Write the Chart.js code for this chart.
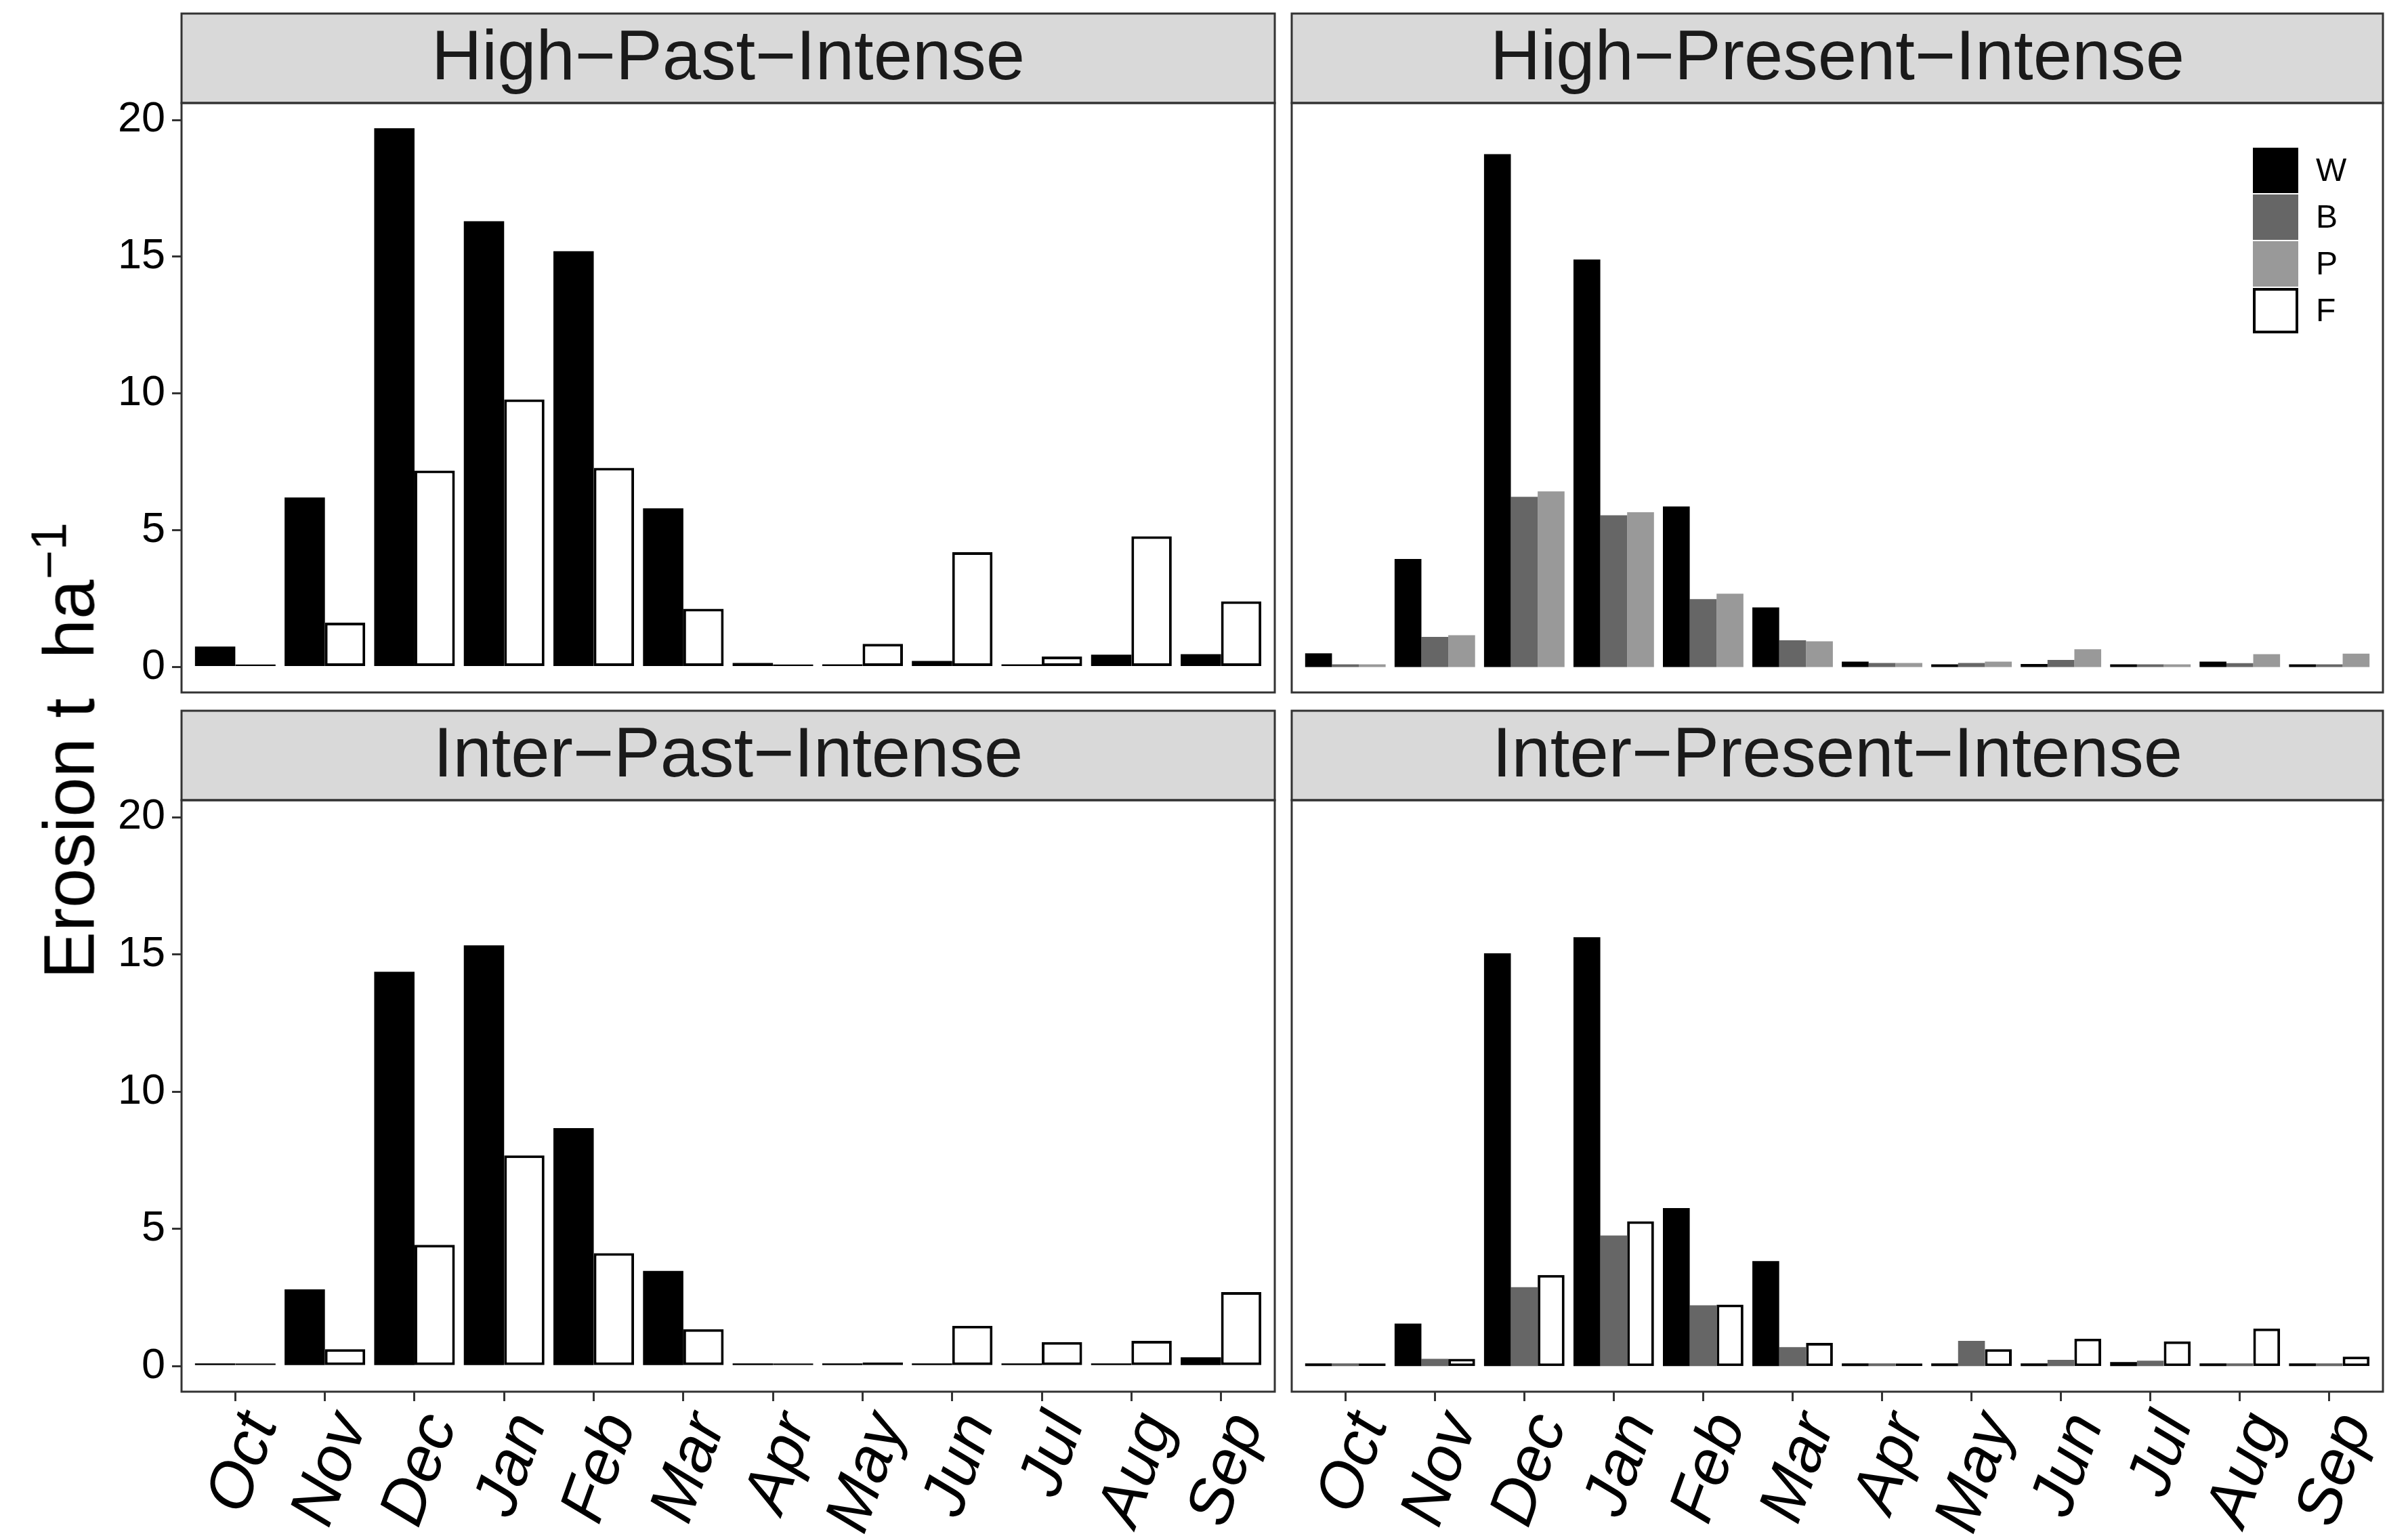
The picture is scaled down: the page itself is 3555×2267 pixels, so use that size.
<!DOCTYPE html>
<html lang="es">
<head>
<meta charset="utf-8">
<title>Erosión mensual por escenario</title>
<script src="https://cdn.jsdelivr.net/npm/chart.js@4.4.1/dist/chart.umd.min.js"></script>
<style>
  body { margin: 0; background: #fff; }
  #lienzo { position: relative; width: 3555px; height: 2267px; overflow: hidden; background: #fff; }
  #lienzo canvas { position: absolute; }
  #tituloY {
    position: absolute; left: 102px; top: 1108px;
    transform: translate(-50%, -50%) rotate(-90deg);
    font-family: 'Liberation Sans', Arial, sans-serif; font-size: 105px;
    white-space: pre; color: #000; line-height: 1;
  }
  #tituloY sup { font-size: 74px; vertical-align: 0; position: relative; top: -0.55em; }
</style>
</head>
<body>
<div id="lienzo">
  <canvas id="panelHPa" width="1895" height="1036" style="left:0;top:0"></canvas>
  <canvas id="panelHPr" width="1660" height="1036" style="left:1895px;top:0"></canvas>
  <canvas id="panelIPa" width="1895" height="1231" style="left:0;top:1036px"></canvas>
  <canvas id="panelIPr" width="1660" height="1231" style="left:1895px;top:1036px"></canvas>
  <div id="tituloY">Erosion t  ha<sup>−1</sup></div>
</div>
<script>
// ---------------- DATOS ----------------

// meses del año hidrológico (oct - sep)
const meses = ['Oct', 'Nov', 'Dec', 'Jan', 'Feb', 'Mar', 'Apr', 'May', 'Jun', 'Jul', 'Aug', 'Sep'];
const ticksY = [0, 5, 10, 15, 20];
const leyenda = ['W', 'B', 'P', 'F'];

// High-Past-Intense
const hpaW = [0.75, 6.2, 19.7, 16.3, 15.2, 5.8, 0.15, 0.05, 0.22, 0.03, 0.45, 0.47];
const hpaF = [0.02, 1.62, 7.18, 9.78, 7.28, 2.13, 0.1, 0.85, 4.2, 0.38, 4.78, 2.4];

// High-Present-Intense
const hprW = [0.5, 3.95, 18.75, 14.9, 5.87, 2.18, 0.2, 0.08, 0.11, 0.08, 0.2, 0.08];
const hprB = [0.08, 1.1, 6.22, 5.55, 2.48, 0.98, 0.15, 0.15, 0.26, 0.08, 0.14, 0.08];
const hprP = [0.08, 1.16, 6.42, 5.66, 2.68, 0.94, 0.15, 0.2, 0.65, 0.1, 0.47, 0.49];

// Inter-Past-Intense
const ipaW = [0.05, 2.8, 14.37, 15.33, 8.67, 3.47, 0.02, 0.05, 0.08, 0.07, 0.03, 0.32];
const ipaF = [0.02, 0.62, 4.42, 7.68, 4.12, 1.35, 0.02, 0.13, 1.47, 0.88, 0.92, 2.7];

// Inter-Present-Intense
const iprW = [0.05, 1.55, 15.04, 15.63, 5.76, 3.83, 0.05, 0.05, 0.1, 0.15, 0.08, 0.05];
const iprB = [0.03, 0.27, 2.88, 4.76, 2.22, 0.69, 0.03, 0.92, 0.23, 0.2, 0.03, 0.03];
const iprF = [0.03, 0.27, 3.32, 5.28, 2.24, 0.85, 0.05, 0.62, 1.0, 0.9, 1.37, 0.35];

// ---------------- ESTILOS ----------------

const estilos = {
    W: { fondo: '#000000', borde: '#000000', ancho: 0 },
    B: { fondo: '#666666', borde: '#666666', ancho: 0 },
    P: { fondo: '#999999', borde: '#999999', ancho: 0 },
    F: { fondo: '#ffffff', borde: '#000000', ancho: 4 }
};

Chart.defaults.font.family = "'Liberation Sans', Arial, sans-serif";

const ALTO_FRANJA = 132;

// franja gris con el título, borde del panel y leyenda
const marco = {
    id: 'marco',
    afterDraw(chart, args, opts) {
        const { ctx, chartArea: a } = chart;
        const ancho = a.right - a.left;
        ctx.save();

        ctx.fillStyle = '#d9d9d9';
        ctx.fillRect(a.left, a.top - ALTO_FRANJA, ancho, ALTO_FRANJA);
        ctx.strokeStyle = '#333333';
        ctx.lineWidth = 3;
        ctx.strokeRect(a.left, a.top - ALTO_FRANJA, ancho, ALTO_FRANJA);

        ctx.fillStyle = '#1a1a1a';
        ctx.font = "103px 'Liberation Sans', Arial, sans-serif";
        ctx.textAlign = 'center';
        ctx.textBaseline = 'middle';
        ctx.fillText(opts.titulo, a.left + ancho / 2, a.top - ALTO_FRANJA / 2 + 3);

        ctx.strokeRect(a.left, a.top, ancho, a.bottom - a.top);

        if (opts.leyenda) {
            const x0 = a.right - 192;
            const lado = 67;
            ctx.font = "48px 'Liberation Sans', Arial, sans-serif";
            ctx.textAlign = 'left';
            leyenda.forEach((nombre, i) => {
                const y0 = a.top + 66 + i * (lado + 2);
                const e = estilos[nombre];
                ctx.fillStyle = e.fondo;
                ctx.fillRect(x0, y0, lado, lado);
                if (e.ancho) {
                    ctx.strokeStyle = e.borde;
                    ctx.lineWidth = e.ancho;
                    ctx.strokeRect(x0 + e.ancho / 2, y0 + e.ancho / 2, lado - e.ancho, lado - e.ancho);
                }
                ctx.fillStyle = '#000';
                ctx.fillText(nombre, x0 + lado + 26, y0 + lado / 2 + 2);
            });
        }
        ctx.restore();
    }
};

function crearPanel(id, titulo, series, conf) {
    const ctx = document.getElementById(id).getContext('2d');
    return new Chart(ctx, {
        type: 'bar',
        data: {
            datasets: series.map(([nombre, valores]) => ({
                label: nombre,
                data: valores.map((v, i) => ({ x: i, y: v })),
                backgroundColor: estilos[nombre].fondo,
                borderColor: estilos[nombre].borde,
                borderWidth: estilos[nombre].ancho,
                borderSkipped: false,
                categoryPercentage: 0.9,
                barPercentage: 1.0,
                minBarLength: 4
            }))
        },
        options: {
            responsive: false,
            animation: false,
            devicePixelRatio: 1,
            layout: { padding: conf.margen },
            plugins: {
                legend: { display: false },
                tooltip: { enabled: false },
                marco: { titulo: titulo, leyenda: !!conf.leyenda }
            },
            scales: {
                x: {
                    type: 'linear',
                    min: -0.6,
                    max: 11.6,
                    offset: false,
                    display: conf.ejeX,
                    afterBuildTicks: s => { s.ticks = meses.map((m, i) => ({ value: i })); },
                    afterFit: s => {
                        s.height = conf.ejeX ? 213 : 0;
                        s.paddingLeft = 0;
                        s.paddingRight = 0;
                    },
                    ticks: {
                        callback: v => meses[v],
                        autoSkip: false,
                        minRotation: 70,
                        maxRotation: 70,
                        labelOffset: 38,
                        color: '#000',
                        padding: 4,
                        font: { size: 94, style: 'italic' }
                    },
                    grid: { offset: false, drawOnChartArea: false, tickLength: 14, tickColor: '#333', tickWidth: 3, lineWidth: 3 },
                    border: { display: false }
                },
                y: {
                    min: -0.93,
                    max: 20.62,
                    display: conf.ejeY,
                    afterBuildTicks: s => { s.ticks = ticksY.map(v => ({ value: v })); },
                    afterFit: s => {
                        s.width = conf.ejeY ? 268 : 0;
                        s.paddingTop = 0;
                        s.paddingBottom = 0;
                    },
                    ticks: { color: '#000', padding: 10, font: { size: 63 } },
                    grid: { drawOnChartArea: false, tickLength: 14, tickColor: '#333', tickWidth: 3, lineWidth: 3 },
                    border: { display: false }
                }
            }
        },
        plugins: [marco]
    });
}

crearPanel('panelHPa', 'High−Past−Intense', [['W', hpaW], ['F', hpaF]],
    { ejeX: false, ejeY: true, margen: { left: 0, top: 152, right: 13, bottom: 14 } });
crearPanel('panelHPr', 'High−Present−Intense', [['W', hprW], ['B', hprB], ['P', hprP]],
    { ejeX: false, ejeY: false, leyenda: true, margen: { left: 12, top: 152, right: 37, bottom: 14 } });
crearPanel('panelIPa', 'Inter−Past−Intense', [['W', ipaW], ['F', ipaF]],
    { ejeX: true, ejeY: true, margen: { left: 0, top: 145, right: 13, bottom: 0 } });
crearPanel('panelIPr', 'Inter−Present−Intense', [['W', iprW], ['B', iprB], ['F', iprF]],
    { ejeX: true, ejeY: false, margen: { left: 12, top: 145, right: 37, bottom: 0 } });
</script>
</body>
</html>
